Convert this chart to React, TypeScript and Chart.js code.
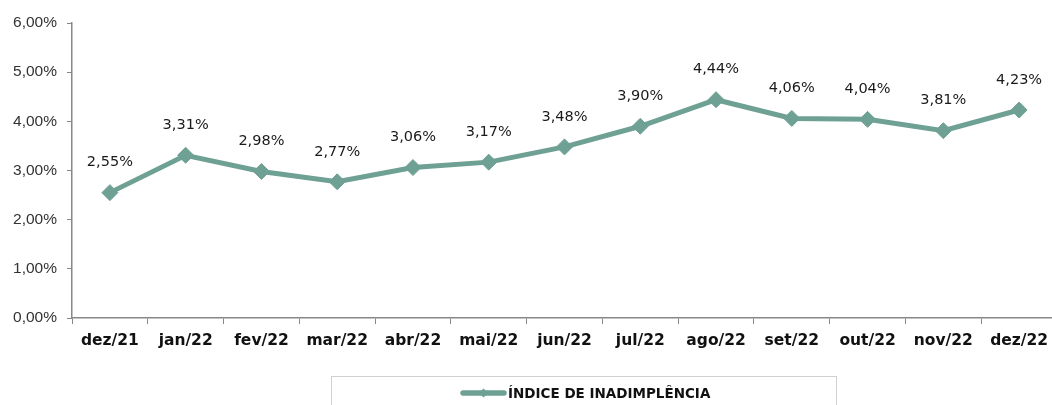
import React, { useEffect, useRef } from "react";
import { Chart, registerables } from "chart.js";

Chart.register(...registerables);

const categories = ["dez/21", "jan/22", "fev/22", "mar/22", "abr/22", "mai/22", "jun/22", "jul/22", "ago/22", "set/22", "out/22", "nov/22", "dez/22"];
const values = [2.55, 3.31, 2.98, 2.77, 3.06, 3.17, 3.48, 3.9, 4.44, 4.06, 4.04, 3.81, 4.23];
const seriesName = "ÍNDICE DE INADIMPLÊNCIA";
const yTicks = [0, 1, 2, 3, 4, 5, 6];

const LINE = "#6ea194";
const fmt = (v: number) => v.toFixed(2).replace(".", ",") + "%";

export default function App() {
  const ref = useRef<HTMLCanvasElement | null>(null);
  useEffect(() => {
    if (!ref.current) return;
    const labelPlugin = {
      id: "labels",
      afterDatasetsDraw(chart: any) {
        const ctx = chart.ctx;
        const meta = chart.getDatasetMeta(0);
        ctx.save();
        ctx.font = "14.5px 'DejaVu Sans'";
        ctx.fillStyle = "#1a1a1a";
        ctx.textAlign = "center";
        ctx.textBaseline = "middle";
        meta.data.forEach((pt: any, i: number) => {
          ctx.fillText(fmt(values[i]), pt.x, pt.y - 30);
        });
        ctx.restore();
      },
      afterDraw(chart: any) {
        const ctx = chart.ctx;
        ctx.save();
        ctx.strokeStyle = "#d0d0d0";
        ctx.lineWidth = 1;
        ctx.strokeRect(331.5, 376.5, 505, 40);
        ctx.strokeStyle = LINE;
        ctx.lineWidth = 5.5;
        ctx.lineCap = "round";
        ctx.beginPath();
        ctx.moveTo(463, 393);
        ctx.lineTo(504, 393);
        ctx.stroke();
        ctx.fillStyle = LINE;
        ctx.beginPath();
        ctx.moveTo(483.5, 388.5);
        ctx.lineTo(488, 393);
        ctx.lineTo(483.5, 397.5);
        ctx.lineTo(479, 393);
        ctx.closePath();
        ctx.fill();
        ctx.fillStyle = "#111";
        ctx.font = "bold 13.5px 'DejaVu Sans'";
        ctx.textAlign = "left";
        ctx.textBaseline = "middle";
        ctx.fillText(seriesName, 508, 394);
        ctx.restore();
      },
    };
    const chart = new Chart(ref.current, {
      type: "line",
      data: {
        labels: categories,
        datasets: [
          {
            label: seriesName,
            data: values,
            borderColor: LINE,
            backgroundColor: LINE,
            borderWidth: 5,
            pointStyle: "rectRot",
            pointRadius: 8,
            pointBorderWidth: 1,
            pointBackgroundColor: LINE,
            pointBorderColor: LINE,
            tension: 0,
          },
        ],
      },
      options: {
        responsive: false,
        animation: false,
        layout: { padding: { top: 23, right: 7, left: 0, bottom: 0 } },
        plugins: { legend: { display: false }, tooltip: { enabled: false } },
        scales: {
          x: {
            type: "category",
            offset: true,
            grid: { display: true, offset: true, drawOnChartArea: false, drawTicks: true, tickLength: 6, color: "#888" },
            border: { display: true, color: "#888", width: 1.5 },
            ticks: { padding: 8, color: "#111", font: { family: "'DejaVu Sans'", size: 15.5, weight: "bold" }, maxRotation: 0, autoSkip: false },
            afterFit: (s: any) => { s.height = 87; },
          },
          y: {
            min: 0,
            max: 6,
            afterBuildTicks: (s: any) => { s.ticks = yTicks.map((v) => ({ value: v })); },
            grid: { display: true, drawOnChartArea: false, drawTicks: true, tickLength: 5, color: "#888" },
            border: { display: true, color: "#888", width: 1.5 },
            ticks: {
              padding: 10,
              color: "#333",
              font: { family: "'Liberation Sans'", size: 15.5 },
              callback: (v: any) => fmt(Number(v)),
            },
            afterFit: (s: any) => { s.width = 72; },
          },
        },
      },
      plugins: [labelPlugin],
    });
    return () => chart.destroy();
  }, []);
  return (
    <div style={{ position: "fixed", left: 0, top: 0, width: 1052, height: 405, overflow: "hidden", background: "#fff" }}>
      <canvas ref={ref} width={1066} height={405} style={{ display: "block" }} />
    </div>
  );
}
